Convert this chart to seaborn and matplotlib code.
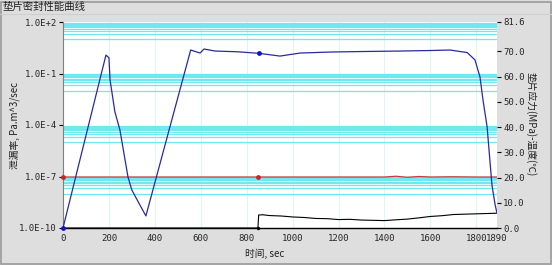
import numpy as np
import pandas as pd
import matplotlib
matplotlib.use("Agg")
import matplotlib.pyplot as plt
import seaborn as sns
from matplotlib.patches import Rectangle

sns.set_style("white")
plt.rcParams['font.family'] = ['Noto Sans CJK SC', 'DejaVu Sans']

# ---- data ----
stress_t = [0, 187, 200, 205, 226, 248, 283, 300, 335, 361, 556, 597, 614, 662, 760, 853,
            945, 1032, 1163, 1300, 1468, 1600, 1685, 1760, 1794, 1816, 1829, 1847, 1868, 1882, 1890]
stress_v = [0, 68.5, 67.4, 58.6, 46.0, 38.8, 20.2, 15.0, 9.1, 4.8, 70.5, 69.3, 70.9, 70.1, 69.8, 69.2,
            68.1, 69.3, 69.7, 69.9, 70.1, 70.3, 70.5, 69.5, 66.6, 59.8, 50.7, 40.0, 17.0, 9.1, 5.9]
temp_t = [0, 850, 1000, 1200, 1400, 1450, 1500, 1550, 1600, 1700, 1800, 1890]
temp_v = [20.2, 20.2, 20.2, 20.2, 20.2, 20.5, 20.1, 20.4, 20.2, 20.3, 20.2, 20.2]
leak_t = [0, 845, 849, 852, 870, 900, 950, 1000, 1050, 1100, 1150, 1200, 1250, 1300, 1350, 1400,
          1450, 1500, 1550, 1600, 1650, 1700, 1750, 1800, 1850, 1890]
leak_v = [1e-10, 1e-10, 1.0e-10, 5.7e-10, 5.9e-10, 5.3e-10, 5.0e-10, 4.4e-10, 4.1e-10, 3.6e-10,
          3.5e-10, 3.1e-10, 3.2e-10, 2.9e-10, 2.8e-10, 2.7e-10, 3.0e-10, 3.3e-10, 3.9e-10,
          4.7e-10, 5.2e-10, 6.1e-10, 6.4e-10, 6.7e-10, 7.0e-10, 7.3e-10]
mark_stress_t = [0, 853]
mark_stress_v = [0, 69.2]
mark_temp_t = [0, 850]
mark_temp_v = [20.2, 20.2]
x_ticks = [0, 200, 400, 600, 800, 1000, 1200, 1400, 1600, 1800, 1890]
left_ticks = [1e2, 1e-1, 1e-4, 1e-7, 1e-10]
left_labels = ["1.0E+2", "1.0E-1", "1.0E-4", "1.0E-7", "1.0E-10"]
right_ticks = [0, 10, 20, 30, 40, 50, 60, 70, 81.6]
right_labels = ["0.0", "10.0", "20.0", "30.0", "40.0", "50.0", "60.0", "70.0", "81.6"]

W, H = 552, 265
fig = plt.figure(figsize=(W / 100, H / 100), dpi=100, facecolor="#dedede")
ax = fig.add_axes([63 / W, 1 - 228 / H, (497 - 63) / W, (228 - 22) / H])
ax.set_facecolor("white")
ax.set_yscale("log")
ax.set_ylim(1e-10, 1e2)
ax.set_xlim(0, 1890)

# cyan bands (minor grid of first decade below each major tick)
cyan = "#6fe8f0"
for k in [2, -1, -4, -7]:
    for m in range(1, 10):
        ax.axhline(m * 10.0 ** (k - 1), color=cyan, lw=0.9, zorder=0.5)
for xt in x_ticks[1:-1]:
    ax.axvline(xt, color="#dff5f8", lw=0.8, zorder=0.4)

mono = "DejaVu Sans Mono"
ax.set_yticks(left_ticks)
ax.set_yticklabels(left_labels, fontfamily=mono, fontsize=6.5)
ax.yaxis.set_minor_locator(matplotlib.ticker.NullLocator())
ax.set_xticks(x_ticks)
ax.set_xticklabels([str(v) for v in x_ticks], fontfamily=mono, fontsize=6.5)
ax.tick_params(axis="both", length=3, width=0.8, color="black", pad=1.5)

df_leak = pd.DataFrame({"t": leak_t, "v": leak_v})
sns.lineplot(data=df_leak, x="t", y="v", ax=ax, color="black", lw=0.8, zorder=3)
sns.scatterplot(x=[848], y=[1e-10], ax=ax, color="black", s=6, zorder=4, linewidth=0, clip_on=False)

ax2 = ax.twinx()
ax2.set_ylim(0, 81.6)
df_s = pd.DataFrame({"t": stress_t, "v": stress_v})
df_tp = pd.DataFrame({"t": temp_t, "v": temp_v})
sns.lineplot(data=df_tp, x="t", y="v", ax=ax2, color="#c83a3a", lw=0.9, zorder=3)
sns.lineplot(data=df_s, x="t", y="v", ax=ax2, color="#2a2aa0", lw=0.9, zorder=4)
sns.scatterplot(x=mark_stress_t, y=mark_stress_v, ax=ax2, color="#1010d0", s=12, linewidth=0, zorder=5, clip_on=False)
sns.scatterplot(x=mark_temp_t, y=mark_temp_v, ax=ax2, color="#d02020", s=12, linewidth=0, zorder=5, clip_on=False)
ax2.set_yticks(right_ticks)
ax2.set_yticklabels(right_labels, fontfamily=mono, fontsize=6.5)
ax2.tick_params(axis="y", length=3, width=0.8, color="black", pad=1.5)
ax2.set_xlim(0, 1890)

for a in (ax, ax2):
    a.set_xlabel("")
    a.set_ylabel("")
    for s in ["top", "right"]:
        a.spines[s].set_visible(False)
    a.spines["left"].set_visible(False)
    a.spines["bottom"].set_visible(False)
ax.spines["left"].set_visible(True)
ax.spines["left"].set_color("#808080")
ax.spines["left"].set_linewidth(0.8)
ax.spines["bottom"].set_visible(True)
ax.spines["bottom"].set_color("black")
ax.spines["bottom"].set_linewidth(1.0)

fig.text(3 / W, 1 - 7 / H, "垫片密封性能曲线", fontsize=7.5, va="center", ha="left", color="#202020")
fig.text(265 / W, 1 - 254 / H, "时间, sec", fontsize=7, va="center", ha="center", color="#202020")
fig.text(15 / W, 1 - 125 / H, "泄漏率, Pa.m^3/sec", fontsize=7, va="center", ha="center",
         rotation=90, color="#202020")
fig.text(531 / W, 1 - 124 / H, "垫片应力(MPa)-温度(℃)", fontsize=7, va="center", ha="center",
         rotation=-90, color="#202020")

fig.add_artist(Rectangle((0.5 / W, 1.5 / H), (W - 2) / W, (H - 3) / H, transform=fig.transFigure,
                         fill=False, edgecolor="#9a9a9a", lw=1.2))
fig.add_artist(matplotlib.lines.Line2D([0, 1], [1 - 14 / H, 1 - 14 / H], transform=fig.transFigure,
                                       color="#cfcfcf", lw=0.8))

fig.savefig("out.png", dpi=100, facecolor=fig.get_facecolor())
